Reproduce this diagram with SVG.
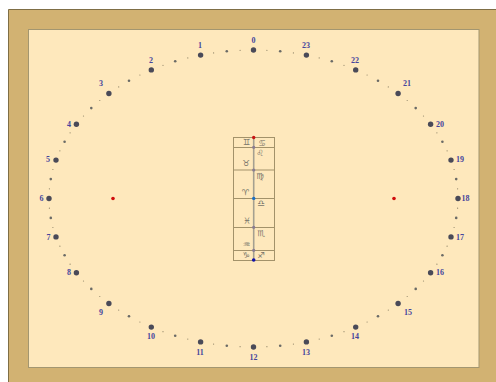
<svg xmlns="http://www.w3.org/2000/svg" width="496" height="382" viewBox="0 0 496 382">
<style>
.h{fill:#4a4a58}
.m{fill:#6a6a66}
.q{fill:#8f8468}
.lb{font:bold 8px "Liberation Serif",serif;fill:#45459c;text-anchor:middle}
.l{stroke:#a3926a;stroke-width:1;fill:none}
.z{font:8.5px "DejaVu Sans",sans-serif;fill:#77756a;text-anchor:middle}
.j{fill:#8a7c90}
</style>
<defs>
<g id="quad">
<circle class="q" cx="-13.4" cy="-148.2" r=".6"/><circle class="m" cx="-26.7" cy="-147.2" r="1.3"/><circle class="q" cx="-39.9" cy="-145.6" r=".6"/>
<circle class="q" cx="-65.7" cy="-140.6" r=".6"/><circle class="m" cx="-78.3" cy="-137.2" r="1.3"/><circle class="q" cx="-90.5" cy="-133.2" r=".6"/>
<circle class="q" cx="-113.6" cy="-123.5" r=".6"/><circle class="m" cx="-124.5" cy="-117.8" r="1.3"/><circle class="q" cx="-134.8" cy="-111.6" r=".6"/>
<circle class="q" cx="-153.7" cy="-98" r=".6"/><circle class="m" cx="-162.2" cy="-90.4" r="1.3"/><circle class="q" cx="-170" cy="-82.5" r=".6"/>
<circle class="q" cx="-183.4" cy="-65.7" r=".6"/><circle class="m" cx="-188.9" cy="-56.8" r="1.3"/><circle class="q" cx="-193.6" cy="-47.7" r=".6"/>
<circle class="q" cx="-200.6" cy="-29" r=".6"/><circle class="m" cx="-202.7" cy="-19.4" r="1.3"/><circle class="q" cx="-204.1" cy="-9.7" r=".6"/>
</g>
</defs>
<rect width="496" height="382" fill="#fff"/>
<g id="frame">
<path d="M8.5 390V9.5H505V390Z" fill="#d2b272" stroke="#7f6e45" stroke-width="1"/>
<rect x="28.5" y="29.5" width="450.5" height="338" fill="#fee8bc" stroke="#a39670" stroke-width="1"/>
</g>
<g id="ticks">
<use href="#quad" transform="translate(253.5 198.5)"/>
<use href="#quad" transform="translate(253.5 198.5) scale(-1 1)"/>
<use href="#quad" transform="translate(253.5 198.5) scale(1 -1)"/>
<use href="#quad" transform="translate(253.5 198.5) scale(-1 -1)"/>
</g>
<g id="hour-0"><circle class="h" cx="253.5" cy="50" r="2.7"/><text class="lb" x="253.5" y="43">0</text></g>
<g id="hour-1"><circle class="h" cx="200.6" cy="55.1" r="2.7"/><text class="lb" x="200" y="48">1</text></g>
<g id="hour-2"><circle class="h" cx="151.3" cy="69.9" r="2.7"/><text class="lb" x="151" y="63">2</text></g>
<g id="hour-3"><circle class="h" cx="108.9" cy="93.5" r="2.7"/><text class="lb" x="101" y="86">3</text></g>
<g id="hour-4"><circle class="h" cx="76.4" cy="124.2" r="2.7"/><text class="lb" x="69" y="127">4</text></g>
<g id="hour-5"><circle class="h" cx="56" cy="160.1" r="2.7"/><text class="lb" x="48" y="162">5</text></g>
<g id="hour-6"><circle class="h" cx="49" cy="198.5" r="2.7"/><text class="lb" x="41.5" y="201">6</text></g>
<g id="hour-7"><circle class="h" cx="56" cy="236.9" r="2.7"/><text class="lb" x="48.5" y="239.5">7</text></g>
<g id="hour-8"><circle class="h" cx="76.4" cy="272.8" r="2.7"/><text class="lb" x="69" y="275">8</text></g>
<g id="hour-9"><circle class="h" cx="108.9" cy="303.5" r="2.7"/><text class="lb" x="101" y="315">9</text></g>
<g id="hour-10"><circle class="h" cx="151.3" cy="327.1" r="2.7"/><text class="lb" x="151" y="339">10</text></g>
<g id="hour-11"><circle class="h" cx="200.6" cy="341.9" r="2.7"/><text class="lb" x="200" y="355">11</text></g>
<g id="hour-12"><circle class="h" cx="253.5" cy="347" r="2.7"/><text class="lb" x="253.5" y="360">12</text></g>
<g id="hour-13"><circle class="h" cx="306.4" cy="341.9" r="2.7"/><text class="lb" x="306" y="355">13</text></g>
<g id="hour-14"><circle class="h" cx="355.7" cy="327.1" r="2.7"/><text class="lb" x="355" y="339">14</text></g>
<g id="hour-15"><circle class="h" cx="398.1" cy="303.5" r="2.7"/><text class="lb" x="408" y="315">15</text></g>
<g id="hour-16"><circle class="h" cx="430.6" cy="272.8" r="2.7"/><text class="lb" x="440" y="275">16</text></g>
<g id="hour-17"><circle class="h" cx="451" cy="236.9" r="2.7"/><text class="lb" x="460" y="239.5">17</text></g>
<g id="hour-18"><circle class="h" cx="458" cy="198.5" r="2.7"/><text class="lb" x="465.5" y="201">18</text></g>
<g id="hour-19"><circle class="h" cx="451" cy="160.1" r="2.7"/><text class="lb" x="460" y="162">19</text></g>
<g id="hour-20"><circle class="h" cx="430.6" cy="124.2" r="2.7"/><text class="lb" x="440" y="127">20</text></g>
<g id="hour-21"><circle class="h" cx="398.1" cy="93.5" r="2.7"/><text class="lb" x="407" y="86">21</text></g>
<g id="hour-22"><circle class="h" cx="355.7" cy="69.9" r="2.7"/><text class="lb" x="355" y="63">22</text></g>
<g id="hour-23"><circle class="h" cx="306.4" cy="55.1" r="2.7"/><text class="lb" x="306" y="48">23</text></g>
<g id="foci">
<circle cx="113" cy="198.5" r="1.8" fill="#d00c0c"/>
<circle cx="394" cy="198.5" r="1.8" fill="#d00c0c"/>
</g>
<g id="zodiac-table">
<rect class="l" x="233.5" y="137.5" width="41" height="123"/>
<path class="l" d="M233.5 147.5H274.5M233.5 170H274.5M233.5 198.5H274.5M233.5 227.5H274.5M233.5 250.5H274.5"/>
<path d="M253.7 137.5V260" stroke="#a5a090" stroke-width="1.6"/>
<text class="z" x="246.5" y="145">♊&#xFE0E;</text>
<text class="z" x="262" y="146">♋&#xFE0E;</text>
<text class="z" x="260" y="156">♌&#xFE0E;</text>
<text class="z" x="246" y="166">♉&#xFE0E;</text>
<text class="z" x="260" y="179">♍&#xFE0E;</text>
<text class="z" x="245.5" y="195">♈&#xFE0E;</text>
<text class="z" x="261" y="206">♎&#xFE0E;</text>
<text class="z" x="247" y="224">♓&#xFE0E;</text>
<text class="z" x="261" y="236">♏&#xFE0E;</text>
<text class="z" x="246.5" y="247">♒&#xFE0E;</text>
<text class="z" x="246" y="258">♑&#xFE0E;</text>
<text class="z" x="261" y="258">♐&#xFE0E;</text>
<circle cx="253.7" cy="137.5" r="1.7" fill="#c81414"/>
<circle class="j" cx="253.7" cy="147.3" r="1.6"/>
<circle class="j" cx="253.7" cy="170" r="1.6"/>
<circle cx="253.7" cy="198.4" r="1.7" fill="#1a6ec4"/>
<circle class="j" cx="253.7" cy="227.3" r="1.6"/>
<circle class="j" cx="253.7" cy="250.3" r="1.6"/>
<circle cx="253.7" cy="260" r="1.8" fill="#1212a8"/>
</g>
</svg>
